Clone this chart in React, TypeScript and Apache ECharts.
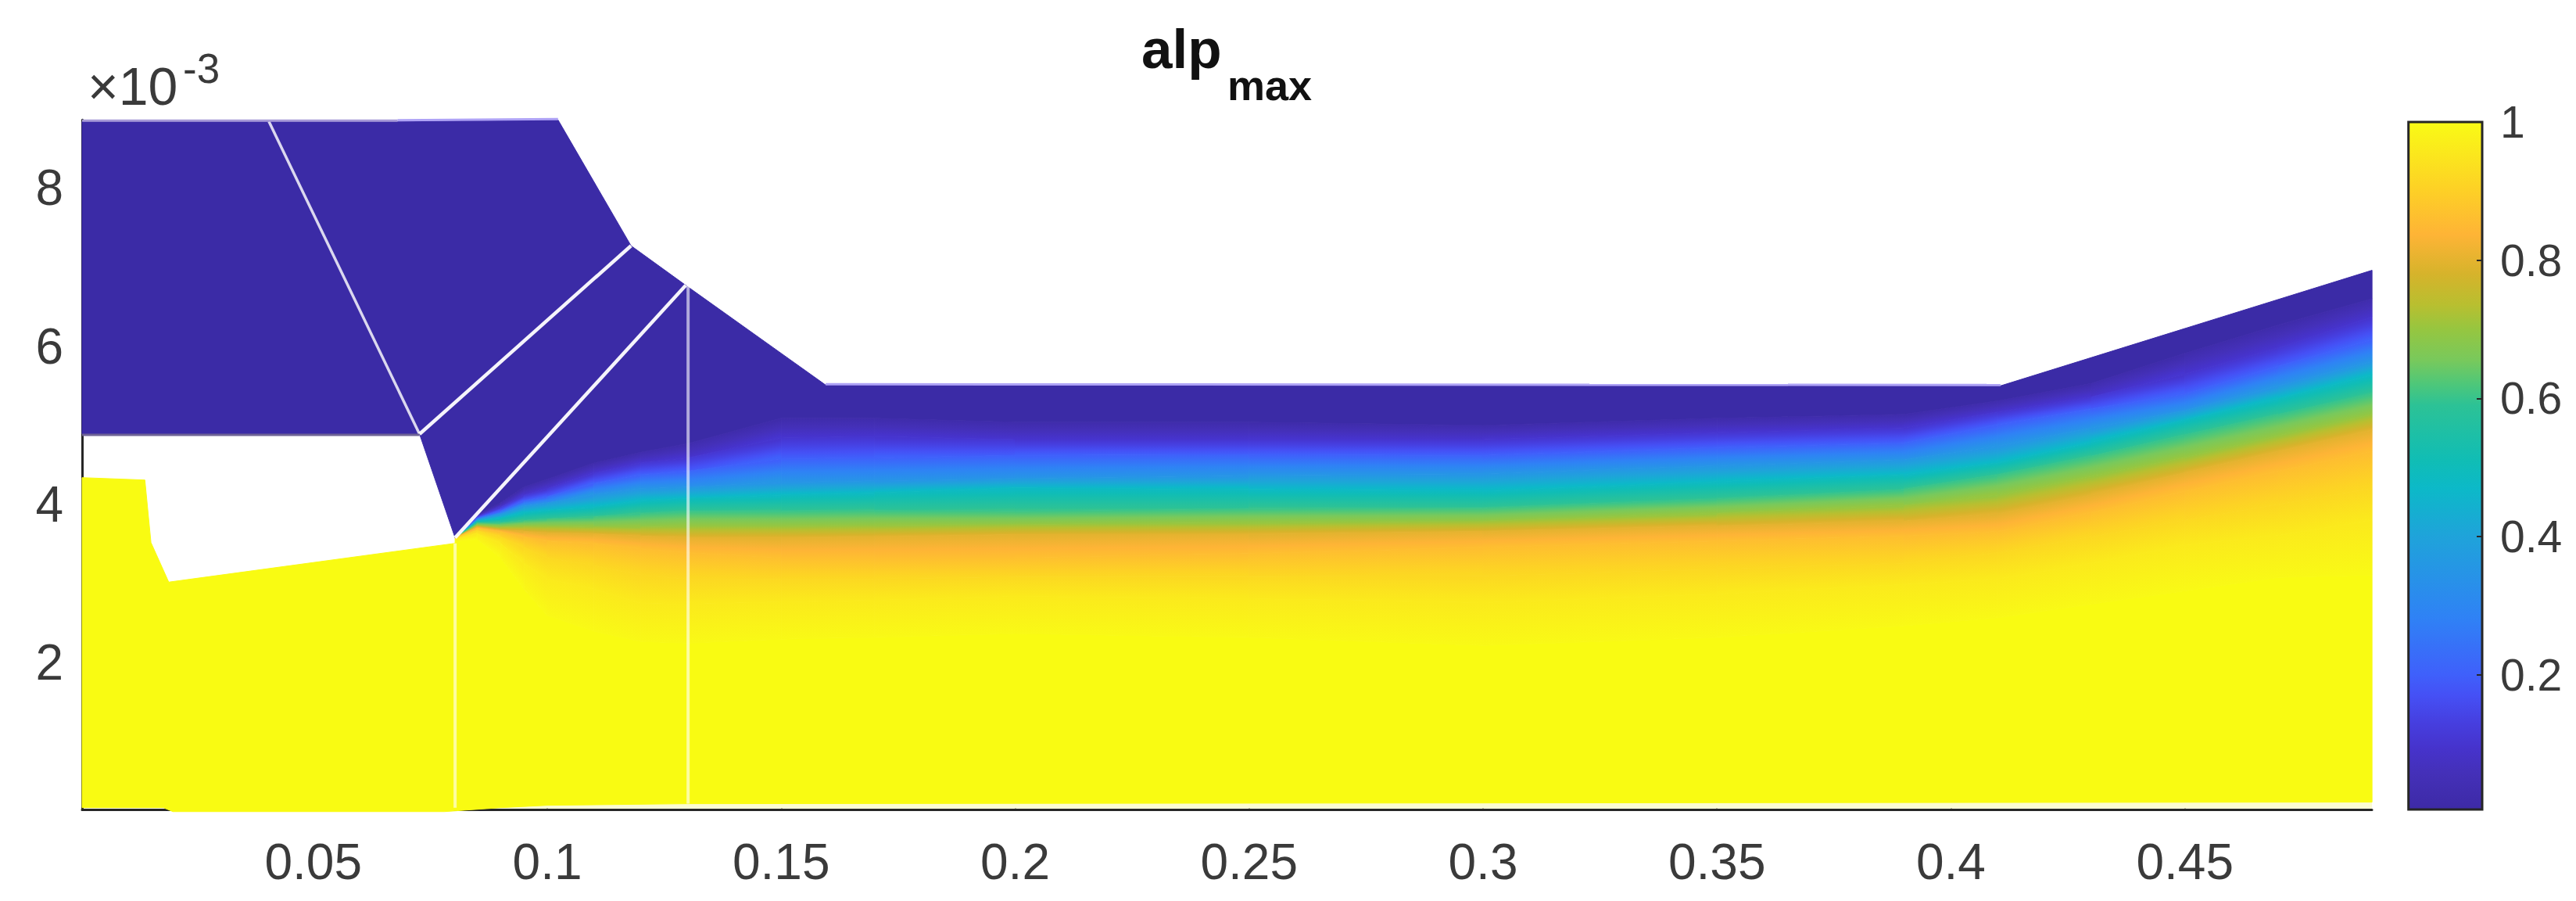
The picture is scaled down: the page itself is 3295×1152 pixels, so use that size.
import React, { useEffect, useRef } from "react";
import * as echarts from "echarts";

// ---- axes ----
const xTicks = [0.05, 0.1, 0.15, 0.2, 0.25, 0.3, 0.35, 0.4, 0.45];
const yTicks = [2, 4, 6, 8];
const cbTicks = [0.2, 0.4, 0.6, 0.8, 1];

// ---- colour map (value, colour) ----
const cmapValues = [0.005, 0.057, 0.094, 0.132, 0.17, 0.2, 0.283, 0.4, 0.47, 0.51, 0.59, 0.62, 0.655, 0.7, 0.735, 0.78, 0.837, 0.905, 1];
const cmapColors = ["#3d2aa6", "#4430b8", "#4633cc", "#463fe0", "#4550f5", "#3f60fb", "#2f82f5", "#1fa3da", "#0cb9c8", "#10bdb5", "#2cc296", "#4dc77a", "#78c95c", "#96c640", "#b8bf30", "#d6b32b", "#feb436", "#fdd225", "#f9fb15"];

// ---- outline of the domain (x, y*1e3) ----
const darkOutline = [[0.00058, 8.84], [0.068, 8.84], [0.1023, 8.86], [0.1179, 7.27], [0.1296, 6.77], [0.1595, 5.51], [0.4106, 5.5], [0.49, 6.96]];
const darkLowerLeft = [[0.0803, 3.58], [0.0727, 4.89], [0.00058, 4.89]];
const yellowRight = [[0.49, 0.24], [0.13, 0.22], [0.1, 0.2], [0.09, 0.17], [0.078, 0.12], [0.02, 0.12], [0.018, 0.17], [0.00058, 0.17]];
const yellowLeft = [[0.00058, 4.34], [0.014, 4.31], [0.0153, 3.52], [0.0191, 3.02], [0.0803, 3.51]];

// ---- iso-lines of alp along the channel ----
const stationX = [0.0803, 0.085, 0.09, 0.095, 0.1, 0.11, 0.12, 0.13, 0.15, 0.17, 0.2, 0.25, 0.3, 0.35, 0.39, 0.41, 0.43, 0.45, 0.47, 0.49];
const alpLevels = [0.02, 0.1, 0.2, 0.35, 0.48, 0.6, 0.7, 0.8, 0.86, 0.92, 0.96, 0.995];
const iso02 = [3.58, 3.87, 4.02, 4.22, 4.32, 4.525, 4.66, 4.77, 5.09, 5.09, 5.04, 5.04, 5.0, 5.09, 5.14, 5.31, 5.53, 5.91, 6.27, 6.6];
const iso10 = [3.58, 3.85, 3.97, 4.12, 4.2, 4.4, 4.53, 4.59, 4.84, 4.86, 4.82, 4.82, 4.82, 4.91, 4.97, 5.17, 5.36, 5.65, 5.98, 6.37];
const iso20 = [3.58, 3.83, 3.92, 4.05, 4.1, 4.27, 4.38, 4.42, 4.58, 4.59, 4.62, 4.63, 4.62, 4.72, 4.78, 5.01, 5.21, 5.4, 5.75, 6.08];
const iso35 = [3.58, 3.81, 3.88, 3.98, 4.02, 4.13, 4.2, 4.22, 4.28, 4.3, 4.33, 4.37, 4.39, 4.49, 4.57, 4.74, 4.97, 5.19, 5.5, 5.81];
const iso48 = [3.58, 3.79, 3.83, 3.9, 3.93, 3.97, 4.05, 4.08, 4.12, 4.15, 4.21, 4.19, 4.17, 4.29, 4.38, 4.525, 4.79, 5.07, 5.34, 5.64];
const iso60 = [3.58, 3.77, 3.77, 3.8, 3.82, 3.85, 3.89, 3.92, 3.92, 3.93, 3.92, 3.95, 3.96, 4.07, 4.19, 4.38, 4.61, 4.88, 5.14, 5.4];
const iso70 = [3.58, 3.74, 3.72, 3.73, 3.73, 3.72, 3.72, 3.73, 3.73, 3.74, 3.75, 3.77, 3.79, 3.89, 3.99, 4.12, 4.36, 4.6, 4.87, 5.14];
const iso80 = [3.58, 3.72, 3.68, 3.66, 3.64, 3.63, 3.6, 3.58, 3.58, 3.59, 3.62, 3.62, 3.66, 3.73, 3.79, 3.88, 4.12, 4.4, 4.67, 4.94];
const iso86 = [3.58, 3.7, 3.66, 3.59, 3.54, 3.51, 3.44, 3.39, 3.33, 3.33, 3.33, 3.38, 3.46, 3.54, 3.6, 3.66, 3.9, 4.17, 4.42, 4.67];
const iso92 = [3.57, 3.67, 3.59, 3.46, 3.33, 3.23, 3.11, 3.06, 3.06, 3.06, 3.09, 3.09, 3.1, 3.18, 3.26, 3.39, 3.59, 3.8, 4.0, 4.2];
const iso96 = [3.56, 3.63, 3.51, 3.26, 3.06, 2.93, 2.75, 2.74, 2.77, 2.79, 2.84, 2.81, 2.76, 2.87, 2.99, 3.06, 3.26, 3.49, 3.61, 3.8];
const iso995 = [3.54, 3.56, 3.33, 2.93, 2.6, 2.4, 2.27, 2.25, 2.3, 2.32, 2.37, 2.32, 2.22, 2.32, 2.47, 2.57, 2.74, 2.91, 3.08, 3.11];
const isoLines = [iso02, iso10, iso20, iso35, iso48, iso60, iso70, iso80, iso86, iso92, iso96, iso995];

// ---- mesh block boundaries drawn in white ----
const meshLines = [
  { pts: [[0.0405, 8.84], [0.0727, 4.89]], w: 3.5, o: 0.82 },
  { pts: [[0.0727, 4.89], [0.1179, 7.27]], w: 4.5, o: 0.95 },
  { pts: [[0.0803, 3.58], [0.1296, 6.77]], w: 4.5, o: 0.95 },
  { pts: [[0.1301, 6.77], [0.1301, 0.22]], w: 4, o: 0.6 },
  { pts: [[0.0803, 3.51], [0.0803, 0.17]], w: 4, o: 0.6 },
  { pts: [[0.1595, 5.52], [0.4106, 5.51]], w: 3, o: 1, c: "#aea2f6" },
  { pts: [[0.068, 8.855], [0.1023, 8.87]], w: 3, o: 1, c: "#aea2f6" },
  { pts: [[0.00058, 8.85], [0.068, 8.85]], w: 3, o: 1, c: "#a79bd8" },
  { pts: [[0.00058, 4.88], [0.0727, 4.88]], w: 3, o: 1, c: "#6e6396" },
];

const DARK = "#3b2ba6";
const YELLOW = "#f9fb12";
const TXT = "#3a3a3a";

function hex(c: string) { return [1, 3, 5].map((i) => parseInt(c.slice(i, i + 2), 16)); }
function cmap(v: number) {
  let i = 0;
  while (i < cmapValues.length - 2 && v > cmapValues[i + 1]) i++;
  const t = Math.min(1, Math.max(0, (v - cmapValues[i]) / (cmapValues[i + 1] - cmapValues[i])));
  const a = hex(cmapColors[i]), b = hex(cmapColors[i + 1]);
  return `rgb(${a.map((x, k) => Math.round(x + (b[k] - x) * t)).join(",")})`;
}
function stopsBetween(a: number, b: number) {
  const s = [{ offset: 0, color: cmap(a) }];
  cmapValues.forEach((v, i) => { if (v > a && v < b) s.push({ offset: (v - a) / (b - a), color: cmapColors[i] }); });
  s.push({ offset: 1, color: cmap(b) });
  return s;
}

export default function App() {
  const ref = useRef<HTMLDivElement>(null);
  useEffect(() => {
    document.body.style.margin = "0";
    const chart = echarts.init(ref.current!, null, { renderer: "svg" });

    const lastIdx = stationX.length - 1;
    const darkPoly = [
      ...darkOutline,
      ...stationX.map((x, i) => [x, iso02[i]]).reverse(),
      ...darkLowerLeft,
    ];
    const yellowPoly = [
      ...stationX.map((x, i) => [x, iso995[i]]),
      ...yellowRight,
      ...yellowLeft,
    ];
    type Cell = { i: number; j: number };
    const cells: Cell[] = [];
    for (let i = 0; i < lastIdx; i++) for (let j = 0; j < alpLevels.length - 1; j++) cells.push({ i, j });

    const axisStyle = { lineStyle: { color: "#262626", width: 3 } };

    chart.setOption({
      animation: false,
      backgroundColor: "#ffffff",
      title: [
        { text: "alp", left: 1460, top: 27, padding: 0, textStyle: { fontFamily: "Liberation Sans", fontSize: 71, fontWeight: "bold", color: "#111111" } },
        { text: "max", left: 1570, top: 82, padding: 0, textStyle: { fontFamily: "Liberation Sans", fontSize: 54, fontWeight: "bold", color: "#111111" } },
      ],
      grid: [
        { left: 105, top: 153.3, width: 2929, height: 882.2 },
        { left: 3080.7, top: 156, width: 94.3, height: 879 },
      ],
      xAxis: [
        {
          type: "value", gridIndex: 0, min: 0.00058, max: 0.48998, splitLine: { show: false },
          axisLine: { show: true, ...axisStyle },
          axisTick: { show: true, inside: true, length: 7, customValues: xTicks, lineStyle: { color: "#262626", width: 2 } },
          axisLabel: { customValues: xTicks, formatter: (v: number) => String(v), margin: 34, fontFamily: "Liberation Sans", fontSize: 64, color: TXT },
        },
        { type: "value", gridIndex: 1, min: 0, max: 1, show: false },
      ],
      yAxis: [
        {
          type: "value", gridIndex: 0, min: 0.142, max: 8.86, splitLine: { show: false },
          axisLine: { show: true, ...axisStyle },
          axisTick: { show: true, inside: true, length: 7, customValues: yTicks, lineStyle: { color: "#262626", width: 2 } },
          axisLabel: { customValues: yTicks, formatter: (v: number) => String(v), margin: 24, fontFamily: "Liberation Sans", fontSize: 64, color: TXT },
        },
        {
          type: "value", gridIndex: 1, position: "right", min: 0.005, max: 1, splitLine: { show: false },
          axisLine: { show: false, onZero: false },
          axisTick: { show: true, inside: true, length: 7, customValues: cbTicks, lineStyle: { color: "#262626", width: 2 } },
          axisLabel: { customValues: cbTicks, formatter: (v: number) => String(v), margin: 23, fontFamily: "Liberation Sans", fontSize: 57, color: TXT },
          z: 5,
        },
      ],
      graphic: [
        { type: "text", x: 112, y: 144, style: { text: "×10", fontFamily: "Liberation Sans", fontSize: 68, fill: TXT, verticalAlign: "bottom", textVerticalAlign: "bottom" } },
        { type: "text", x: 234, y: 114, style: { text: "-3", fontFamily: "Liberation Sans", fontSize: 53, fill: TXT, verticalAlign: "bottom", textVerticalAlign: "bottom" } },
      ],
      series: [
        {
          // pale blur under the bottom edge of the field
          type: "custom", coordinateSystem: "cartesian2d", xAxisIndex: 0, yAxisIndex: 0, silent: true, z: 2,
          data: [[0]],
          renderItem: (_p: any, api: any) => ({
            type: "polygon",
            shape: { points: [[0.085, 0.3], [0.49, 0.3], [0.49, 0.16], [0.085, 0.16]].map((p) => api.coord(p)) },
            style: { fill: "#fbfbd2" },
          }),
        },
        {
          type: "custom", coordinateSystem: "cartesian2d", xAxisIndex: 0, yAxisIndex: 0, silent: true, z: 3,
          data: [[0], [1]],
          renderItem: (p: any, api: any) => {
            const poly = p.dataIndex === 0 ? darkPoly : yellowPoly;
            const col = p.dataIndex === 0 ? DARK : YELLOW;
            return { type: "polygon", shape: { points: poly.map((q) => api.coord(q)) }, style: { fill: col, stroke: col, lineWidth: 1 } };
          },
        },
        {
          type: "custom", coordinateSystem: "cartesian2d", xAxisIndex: 0, yAxisIndex: 0, silent: true, z: 4,
          data: cells.map((c) => [c.i, c.j]),
          renderItem: (p: any, api: any) => {
            const { i, j } = cells[p.dataIndex];
            const A = api.coord([stationX[i], isoLines[j][i]]);
            const B = api.coord([stationX[i + 1], isoLines[j][i + 1]]);
            const C = api.coord([stationX[i + 1], isoLines[j + 1][i + 1]]);
            const D = api.coord([stationX[i], isoLines[j + 1][i]]);
            const dx = B[0] - A[0] + C[0] - D[0], dy = B[1] - A[1] + C[1] - D[1];
            const len = Math.hypot(dx, dy) || 1;
            const nx = -dy / len, ny = dx / len;
            const m1 = [(A[0] + B[0]) / 2, (A[1] + B[1]) / 2];
            const m2 = [(C[0] + D[0]) / 2, (C[1] + D[1]) / 2];
            const t = (m2[0] - m1[0]) * nx + (m2[1] - m1[1]) * ny;
            const grad = new echarts.graphic.LinearGradient(
              m1[0], m1[1], m1[0] + nx * t, m1[1] + ny * t,
              stopsBetween(alpLevels[j], alpLevels[j + 1]), true
            );
            const fill = Math.abs(t) < 0.5 ? cmap((alpLevels[j] + alpLevels[j + 1]) / 2) : grad;
            return { type: "polygon", shape: { points: [A, B, C, D] }, style: { fill, stroke: fill, lineWidth: 1 } };
          },
        },
        {
          type: "custom", coordinateSystem: "cartesian2d", xAxisIndex: 0, yAxisIndex: 0, silent: true, z: 5,
          data: meshLines.map((_, i) => [i]),
          renderItem: (p: any, api: any) => {
            const m = meshLines[p.dataIndex];
            return {
              type: "polyline",
              shape: { points: m.pts.map((q) => api.coord(q)) },
              style: { fill: "none", stroke: m.c || "#ffffff", lineWidth: m.w, opacity: m.o },
            };
          },
        },
        {
          // colour bar
          type: "custom", coordinateSystem: "cartesian2d", xAxisIndex: 1, yAxisIndex: 1, silent: true, z: 1,
          data: [[0, 0.005, 1, 1]],
          renderItem: (_p: any, api: any) => {
            const lo = api.coord([api.value(0), api.value(1)]);
            const hi = api.coord([api.value(2), api.value(3)]);
            const n = cmapValues.length - 1;
            const span = cmapValues[n] - cmapValues[0];
            const fill = new echarts.graphic.LinearGradient(0, 1, 0, 0,
              cmapValues.map((v, i) => ({ offset: (v - cmapValues[0]) / span, color: cmapColors[i] })));
            return {
              type: "rect",
              shape: { x: lo[0], y: hi[1], width: hi[0] - lo[0], height: lo[1] - hi[1] },
              style: { fill, stroke: "#262626", lineWidth: 3 },
            };
          },
        },
      ],
    });
    return () => chart.dispose();
  }, []);
  return <div ref={ref} style={{ position: "absolute", left: 0, top: 0, width: 3295, height: 1152 }} />;
}
